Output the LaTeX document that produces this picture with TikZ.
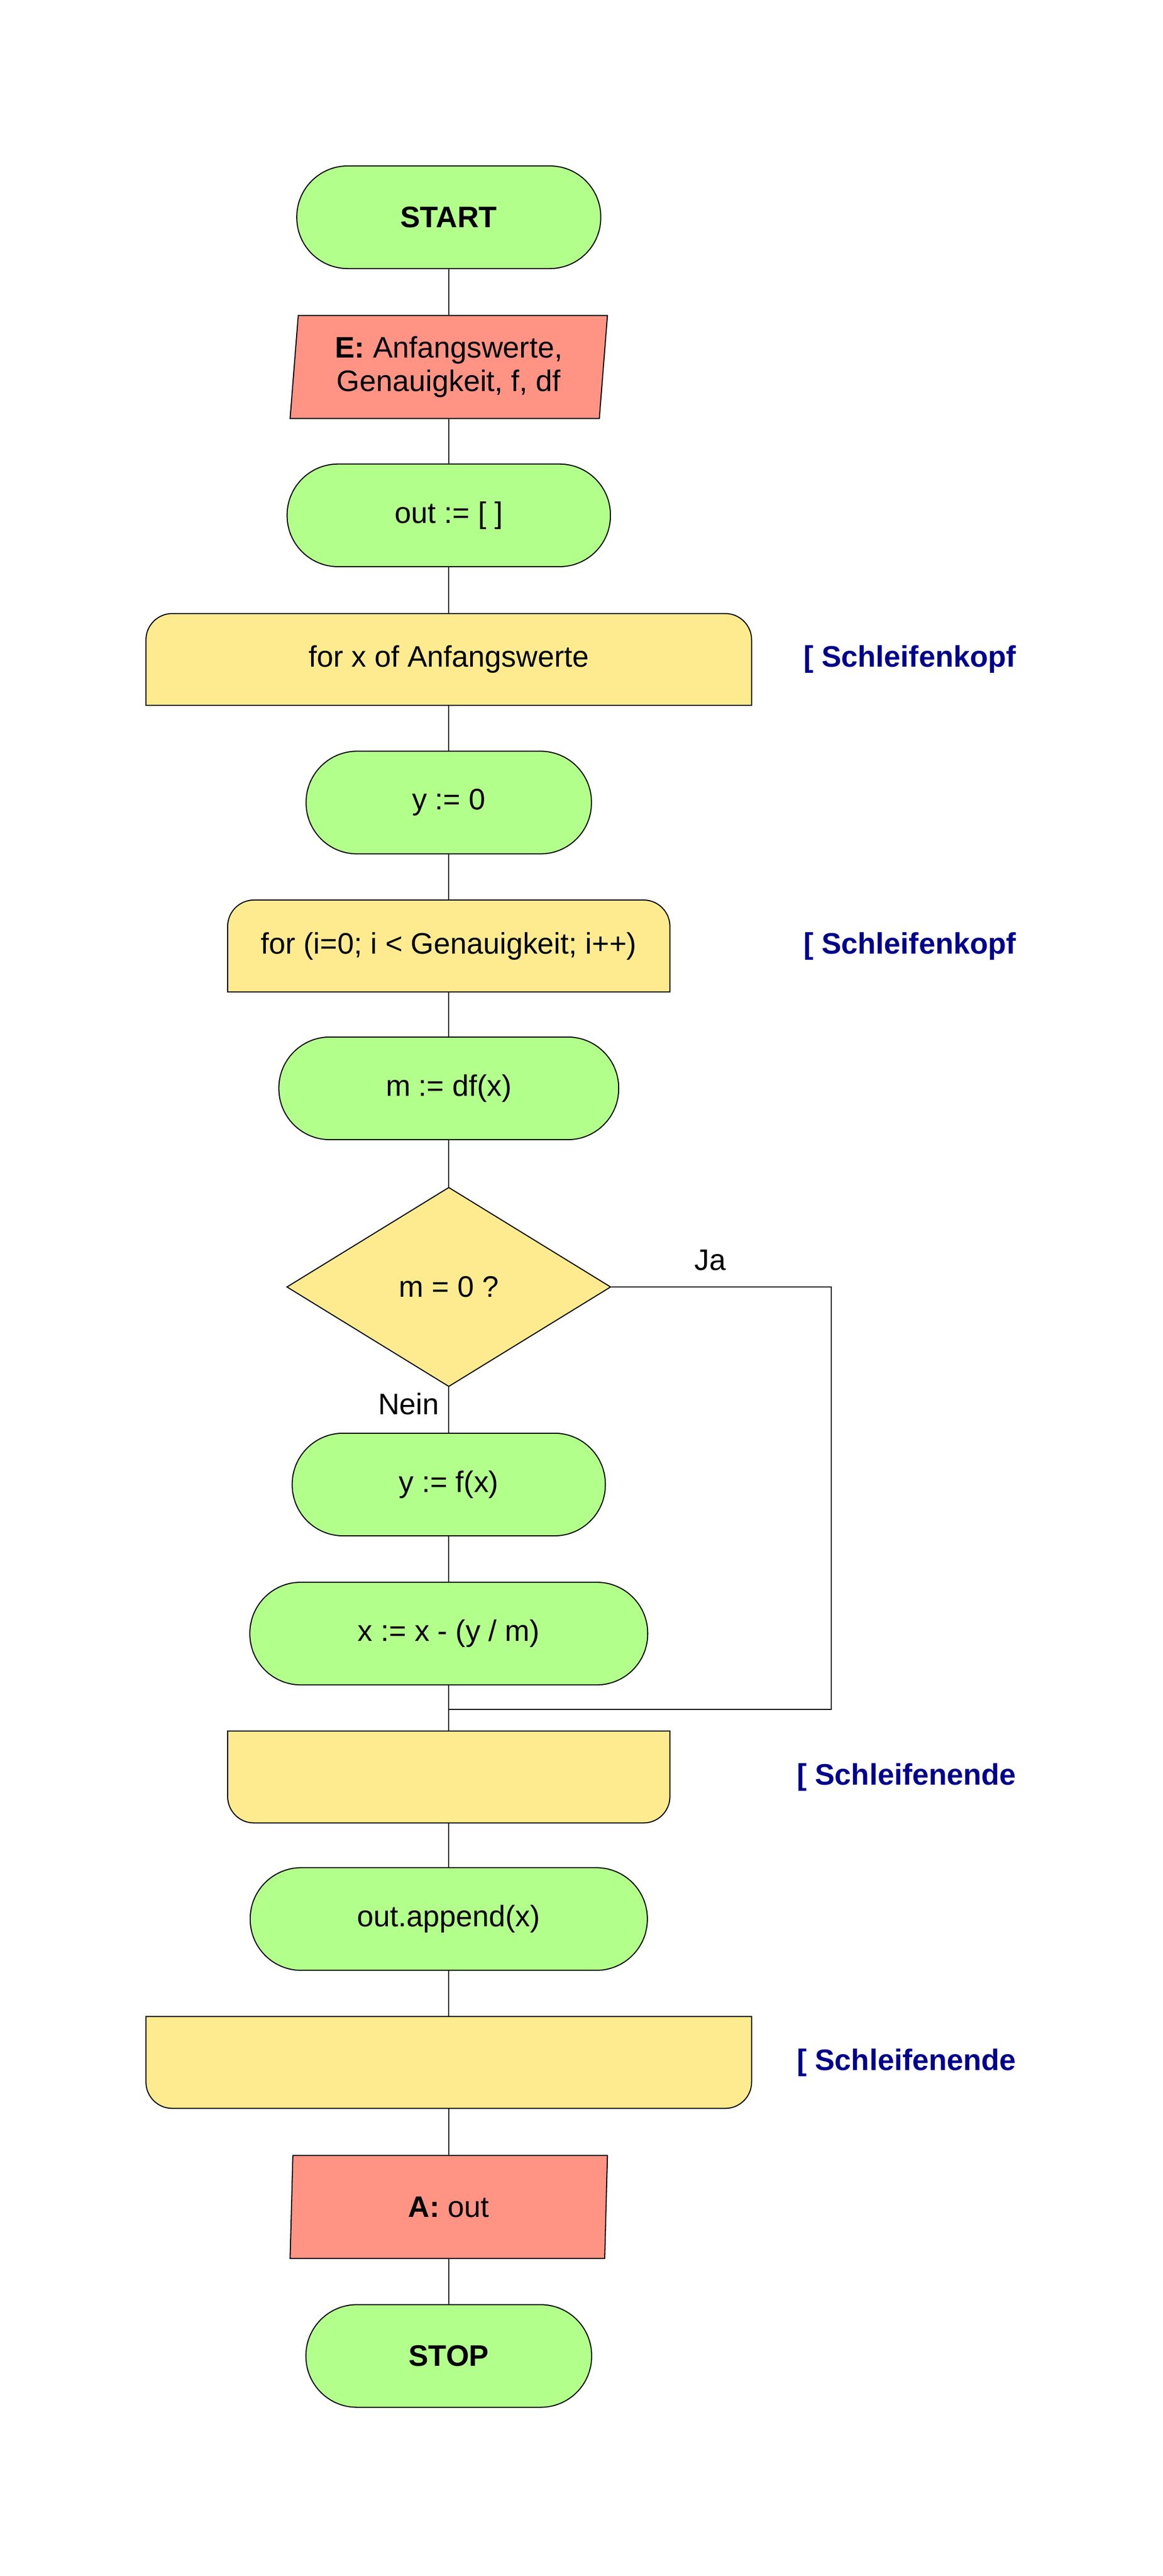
\documentclass[tikz,border=0pt]{standalone}
\usepackage{fontspec}
\setmainfont{Liberation Sans}
\usepackage{xcolor}
\usepackage{tikz}
\usetikzlibrary{shapes.geometric,backgrounds,positioning}
\definecolor{termgreen}{RGB}{179,255,140}
\definecolor{iored}{RGB}{255,148,133}
\definecolor{loopyellow}{RGB}{255,235,143}
\definecolor{noteblue}{RGB}{0,0,140}
\begin{document}
\begin{tikzpicture}[x=1mm,y=1mm]
\tikzstyle{every node}+=[inner sep=0pt, font=\fontsize{24}{27}\selectfont]
\tikzstyle{term}=[draw=black, fill=termgreen, line width=0.3mm, rounded corners=14.5mm, minimum height=29.2mm]
\tikzstyle{io}=[draw=black, fill=iored, line width=0.3mm, trapezium, trapezium left angle=82.4, trapezium right angle=97.6, trapezium stretches body, minimum width=90.3mm, minimum height=29.3mm, align=center]
\tikzstyle{loopbox}=[minimum height=26mm]
\tikzstyle{loopshape}=[draw=black, fill=loopyellow, line width=0.3mm]
\tikzstyle{decision}=[draw=black, fill=loopyellow, line width=0.3mm, diamond, minimum width=92.2mm, minimum height=56.7mm]
\tikzstyle{note}=[anchor=east, text=noteblue, font=\fontsize{24}{27}\selectfont\bfseries]
\tikzstyle{wire}=[draw=black, line width=0.3mm]
\useasboundingbox (0,0) rectangle (330.8,-732.8);
\node [term, minimum width=86.5mm] (start) at (127.7,-61.8) {\textbf{START}};
\node [io] (input) at (127.7,-104.4) {\textbf{E:} Anfangswerte,\\Genauigkeit, f, df};
\node [term, minimum width=92mm] (init) at (127.7,-146.6) {out := [ ]};
\node [loopbox, minimum width=172.2mm] (headx) at (127.7,-187.6) {for x of Anfangswerte};
\node [term, minimum width=81.2mm] (yzero) at (127.7,-228.3) {y := 0};
\node [loopbox, minimum width=125.7mm] (headi) at (127.7,-269.1) {for (i=0; i < Genauigkeit; i++)};
\node [term, minimum width=96.7mm] (slope) at (127.7,-309.6) {m := df(x)};
\node [decision] (check) at (127.7,-366.1) {m = 0 ?};
\node [term, minimum width=89.1mm] (fval) at (127.7,-422.3) {y := f(x)};
\node [term, minimum width=113.2mm] (newton) at (127.7,-464.7) {x := x - (y / m)};
\coordinate (merge) at (127.7,-486.3);
\node [loopbox, minimum width=125.7mm] (endi) at (127.7,-505.5) {};
\node [term, minimum width=113mm] (append) at (127.7,-545.9) {out.append(x)};
\node [loopbox, minimum width=172.2mm] (endx) at (127.7,-586.7) {};
\node [io] (output) at (127.7,-627.8) {\textbf{A:} out};
\node [term, minimum width=81.3mm] (stop) at (127.7,-670.2) {\textbf{STOP}};
\node [note] (kopfx) at (289.2,-187.6) {[ Schleifenkopf};
\node [note] (kopfi) at (289.2,-269.1) {[ Schleifenkopf};
\node [note] (endei) at (289.2,-505.5) {[ Schleifenende};
\node [note] (endex) at (289.2,-586.7) {[ Schleifenende};
\begin{scope}[on background layer]
\filldraw [loopshape] (headx.south west) -- ([yshift=-7.5mm]headx.north west) arc [start angle=180, end angle=90, radius=7.5mm] -- ([xshift=-7.5mm]headx.north east) arc [start angle=90, end angle=0, radius=7.5mm] -- (headx.south east) -- cycle;
\filldraw [loopshape] (headi.south west) -- ([yshift=-7.5mm]headi.north west) arc [start angle=180, end angle=90, radius=7.5mm] -- ([xshift=-7.5mm]headi.north east) arc [start angle=90, end angle=0, radius=7.5mm] -- (headi.south east) -- cycle;
\filldraw [loopshape] (endi.north west) -- (endi.north east) -- ([yshift=7.5mm]endi.south east) arc [start angle=0, end angle=-90, radius=7.5mm] -- ([xshift=7.5mm]endi.south west) arc [start angle=270, end angle=180, radius=7.5mm] -- cycle;
\filldraw [loopshape] (endx.north west) -- (endx.north east) -- ([yshift=7.5mm]endx.south east) arc [start angle=0, end angle=-90, radius=7.5mm] -- ([xshift=7.5mm]endx.south west) arc [start angle=270, end angle=180, radius=7.5mm] -- cycle;
\end{scope}
\draw [wire] (start) -- (input);
\draw [wire] (input) -- (init);
\draw [wire] (init) -- (headx);
\draw [wire] (headx) -- (yzero);
\draw [wire] (yzero) -- (headi);
\draw [wire] (headi) -- (slope);
\draw [wire] (slope) -- (check);
\draw [wire] (check) -- node [pos=0.37, left=2.6mm] {Nein} (fval);
\draw [wire] (check.east) -- node [pos=0.45, above=4.6mm] {Ja} ++(62.6,0) |- (merge);
\draw [wire] (fval) -- (newton);
\draw [wire] (newton) -- (endi);
\draw [wire] (endi) -- (append);
\draw [wire] (append) -- (endx);
\draw [wire] (endx) -- (output);
\draw [wire] (output) -- (stop);
\end{tikzpicture}
\end{document}
